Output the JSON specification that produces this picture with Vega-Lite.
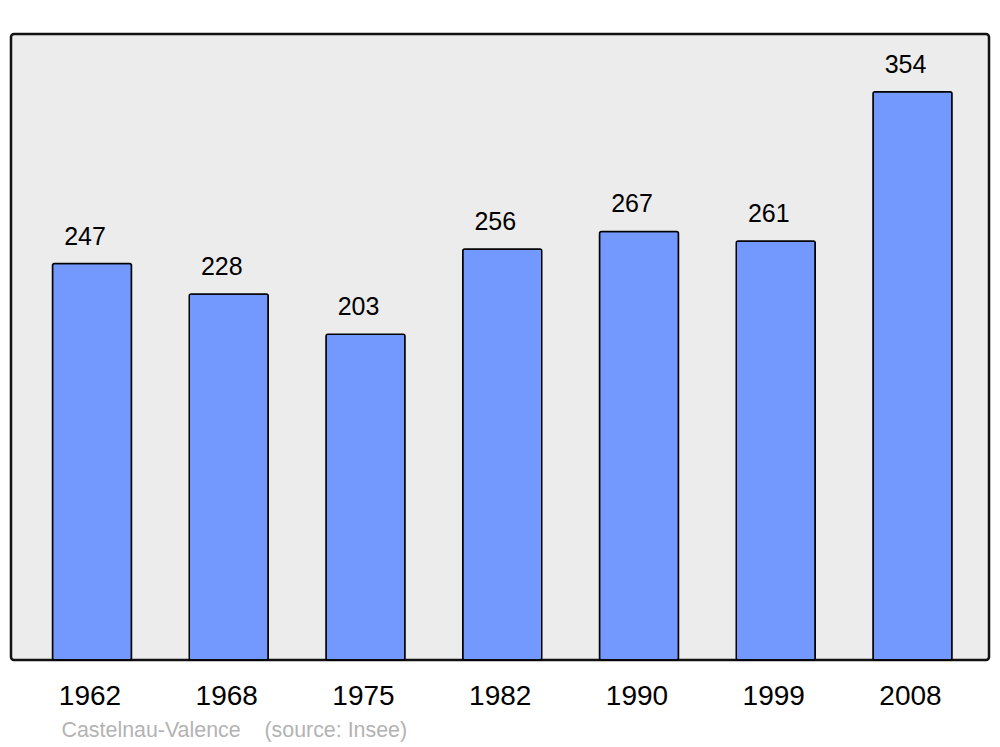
{
  "$schema": "https://vega.github.io/schema/vega-lite/v6.json",
  "width": 978,
  "height": 626,
  "autosize": "none",
  "padding": {"left": 11, "top": 34, "right": 11, "bottom": 87},
  "background": "white",
  "config": {
    "view": {"fill": "#ececec", "stroke": "#111111", "strokeWidth": 2.5, "cornerRadius": 3},
    "font": "Liberation Sans"
  },
  "data": {
    "values": [
      {"year": "1962", "pop": 247},
      {"year": "1968", "pop": 228},
      {"year": "1975", "pop": 203},
      {"year": "1982", "pop": 256},
      {"year": "1990", "pop": 267},
      {"year": "1999", "pop": 261},
      {"year": "2008", "pop": 354}
    ]
  },
  "encoding": {
    "x": {
      "field": "year",
      "type": "ordinal",
      "scale": {"paddingInner": 0.4223, "paddingOuter": 0, "range": [41.5, 941]},
      "axis": {
        "title": "Castelnau-Valence\u00a0\u00a0\u00a0\u00a0(source: Insee)",
        "titleFont": "Liberation Sans",
        "titleFontSize": 21.4,
        "titleFontWeight": "normal",
        "titleColor": "#b3b3b3",
        "titleAnchor": "start",
        "titleAlign": "left",
        "titleBaseline": "alphabetic",
        "titleX": 50,
        "titleY": 76,
        "labelAngle": 0,
        "labelFontSize": 28,
        "labelColor": "#000000",
        "labelPadding": 22,
        "labelOffset": -2,
        "ticks": false,
        "domain": false,
        "grid": false
      }
    },
    "y": {
      "field": "pop",
      "type": "quantitative",
      "scale": {"domain": [0, 390], "nice": false},
      "axis": null
    }
  },
  "layer": [
    {
      "mark": {"type": "bar", "fill": "#7399ff", "stroke": "#000000", "strokeWidth": 1.5, "cornerRadius": 2}
    },
    {
      "mark": {"type": "text", "baseline": "alphabetic", "dy": -19, "dx": -7, "fontSize": 25, "color": "#000000"},
      "encoding": {"text": {"field": "pop", "type": "quantitative"}}
    }
  ]
}
